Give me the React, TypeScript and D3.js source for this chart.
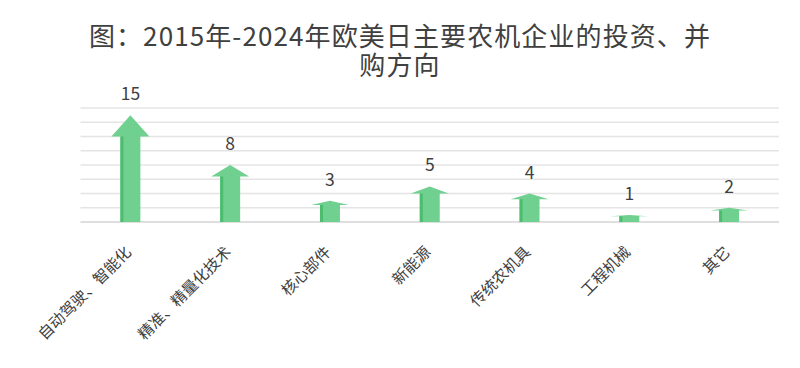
// Arrow column chart — investment / M&A directions of major farm machinery firms.

import * as d3 from "d3";

const W = 800;
const H = 368;
const MARGIN = { top: 108, right: 21, bottom: 146, left: 80.5 };

const TITLE_LINES = ["图：2015年-2024年欧美日主要农机企业的投资、并", "购方向"];
const categories = ["自动驾驶、智能化", "精准、精量化技术", "核心部件", "新能源", "传统农机具", "工程机械", "其它"];
const values = [15, 8, 3, 5, 4, 1, 2];
const yTicks = [0, 2, 4, 6, 8, 10, 12, 14, 16];

const FONT = "'Noto Sans CJK SC', 'Noto Sans', sans-serif";
const INK = "#404040";

export default function App() {
  const innerW = W - MARGIN.left - MARGIN.right;
  const innerH = H - MARGIN.top - MARGIN.bottom;

  const x = d3.scaleBand<string>().domain(categories).range([0, innerW]);
  const y = d3.scaleLinear().domain([0, 16]).range([innerH, 0]);
  const bw = x.bandwidth();
  const shaft = bw * 0.2;
  const head = bw * 0.38;

  const arrowPath = (cx: number, v: number) => {
    const top = y(v);
    const base = y(0);
    const headH = (base - top) * 0.2;
    const p = d3.path();
    p.moveTo(cx - shaft / 2, base);
    p.lineTo(cx - shaft / 2, top + headH);
    p.lineTo(cx - head / 2, top + headH);
    p.lineTo(cx, top);
    p.lineTo(cx + head / 2, top + headH);
    p.lineTo(cx + shaft / 2, top + headH);
    p.lineTo(cx + shaft / 2, base);
    p.closePath();
    return p.toString();
  };

  return (
    <svg width={W} height={H} style={{ position: "absolute", left: 0, top: 0, background: "#fff" }} fontFamily={FONT}>
      {TITLE_LINES.map((t, i) => (
        <text
          key={i}
          x={W / 2}
          y={46 + i * 29}
          textAnchor="middle"
          fontSize={26}
          letterSpacing={1.1}
          fill={INK}
        >
          {t}
        </text>
      ))}
      <g transform={`translate(${MARGIN.left},${MARGIN.top})`}>
        {yTicks.map((t) => (
          <line
            key={t}
            x1={0}
            x2={innerW}
            y1={y(t)}
            y2={y(t)}
            stroke={t === 0 ? "#d4d4d4" : "#e4e4e4"}
            strokeWidth={1.5}
          />
        ))}
        {categories.map((c, i) => {
          const cx = (x(c) ?? 0) + bw / 2;
          const v = values[i];
          const top = y(v);
          const headH = (y(0) - top) * 0.2;
          return (
            <g key={c}>
              <path d={arrowPath(cx, v)} fill="#6fd08f" />
              <rect x={cx - shaft / 2} y={top + headH} width={3} height={y(0) - top - headH} fill="#4cbd6e" />
              <text x={cx} y={top - 15} textAnchor="middle" fontSize={17.5} fill={INK}>
                {v}
              </text>
              <text
                transform={`translate(${cx - 3},${innerH + 26}) rotate(-45)`}
                textAnchor="end"
                dominantBaseline="central"
                fontSize={15.5}
                fill={INK}
              >
                {c}
              </text>
            </g>
          );
        })}
      </g>
    </svg>
  );
}
